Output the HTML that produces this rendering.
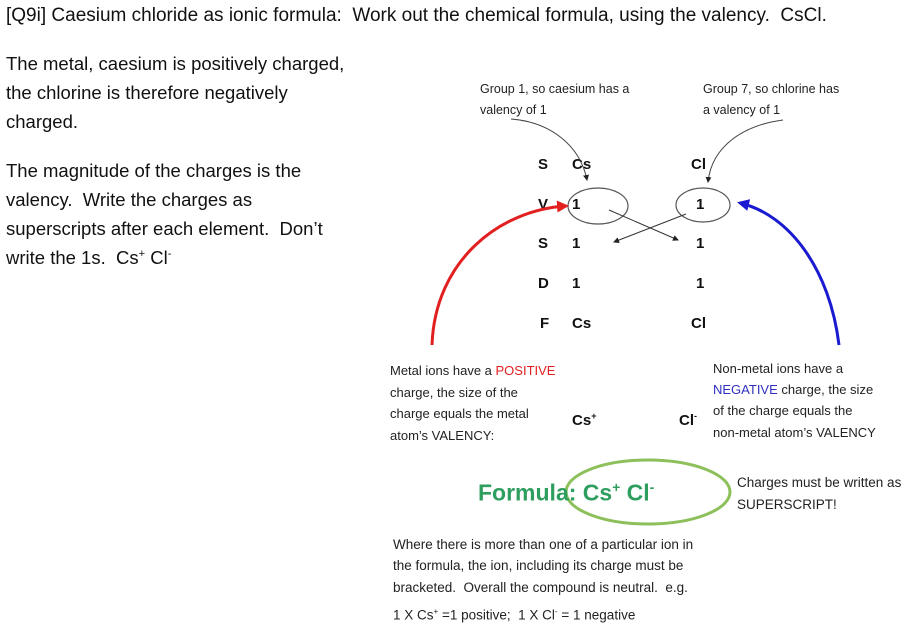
<!DOCTYPE html>
<html><head><meta charset="utf-8"><style>
body{margin:0;width:923px;height:640px;background:#fff;position:relative;overflow:hidden;font-family:"Liberation Sans",sans-serif;color:#111}
.t{position:absolute;white-space:nowrap;line-height:1}
.big{font-size:18.5px}
.sm{font-size:12.5px;color:#222}
.md{font-size:13px;color:#222}
.bt{font-size:13.5px;color:#222}
.b{font-weight:bold;font-size:15px}
sup{font-size:60%}
</style></head><body>
<div class="t big" style="left:6px;top:6px;font-size:19px">[Q9i] Caesium chloride as ionic formula:&nbsp; Work out the chemical formula, using the valency.&nbsp; CsCl.</div>
<div class="t big" style="left:6px;top:55px">The metal, caesium is positively charged,</div>
<div class="t big" style="left:6px;top:84px">the chlorine is therefore negatively</div>
<div class="t big" style="left:6px;top:113px">charged.</div>
<div class="t big" style="left:6px;top:162px">The magnitude of the charges is the</div>
<div class="t big" style="left:6px;top:191px">valency.&nbsp; Write the charges as</div>
<div class="t big" style="left:6px;top:220px">superscripts after each element.&nbsp; Don’t</div>
<div class="t big" style="left:6px;top:249px">write the 1s.&nbsp; Cs<sup>+</sup> Cl<sup>-</sup></div>

<div class="t sm" style="left:480px;top:83px">Group 1, so caesium has a</div>
<div class="t sm" style="left:480px;top:104px">valency of 1</div>
<div class="t sm" style="left:703px;top:83px">Group 7, so chlorine has</div>
<div class="t sm" style="left:703px;top:104px">a valency of 1</div>

<div class="t b" style="left:538px;top:157px">S</div><div class="t b" style="left:572px;top:157px">Cs</div><div class="t b" style="left:691px;top:157px">Cl</div>
<div class="t b" style="left:538px;top:197px">V</div><div class="t b" style="left:572px;top:197px">1</div><div class="t b" style="left:696px;top:197px">1</div>
<div class="t b" style="left:538px;top:236px">S</div><div class="t b" style="left:572px;top:236px">1</div><div class="t b" style="left:696px;top:236px">1</div>
<div class="t b" style="left:538px;top:276px">D</div><div class="t b" style="left:572px;top:276px">1</div><div class="t b" style="left:696px;top:276px">1</div>
<div class="t b" style="left:540px;top:316px">F</div><div class="t b" style="left:572px;top:316px">Cs</div><div class="t b" style="left:691px;top:316px">Cl</div>

<svg width="923" height="640" style="position:absolute;left:0;top:0">
<defs>
<marker id="k" markerWidth="6" markerHeight="6" refX="5" refY="3" orient="auto"><path d="M0,0L6,3L0,6z" fill="#222"/></marker>
<marker id="r" markerWidth="4" markerHeight="4" refX="3" refY="2" orient="auto"><path d="M0,0L4,2L0,4z" fill="#e32020"/></marker>
<marker id="bl" markerWidth="4" markerHeight="4" refX="3" refY="2" orient="auto"><path d="M0,0L4,2L0,4z" fill="#1a1ad0"/></marker>
</defs>
<ellipse cx="598" cy="206" rx="30" ry="18" fill="none" stroke="#555" stroke-width="1.2"/>
<ellipse cx="703" cy="205" rx="27" ry="17" fill="none" stroke="#555" stroke-width="1.2"/>
<path d="M511,119 C550,122 580,145 587,180" fill="none" stroke="#444" stroke-width="1" marker-end="url(#k)"/>
<path d="M783,120 C745,125 712,145 708,182" fill="none" stroke="#444" stroke-width="1" marker-end="url(#k)"/>
<line x1="609" y1="210" x2="678" y2="240" stroke="#333" marker-end="url(#k)"/>
<line x1="686" y1="214" x2="614" y2="242" stroke="#333" marker-end="url(#k)"/>
<path d="M432,345 C435,260 500,210 566,206" fill="none" stroke="#e32020" stroke-width="3" marker-end="url(#r)"/>
<path d="M839,345 C830,270 790,215 740,203" fill="none" stroke="#1a1ad0" stroke-width="3" marker-end="url(#bl)"/>
<ellipse cx="648" cy="492" rx="82" ry="32" fill="none" stroke="#8dc05a" stroke-width="3"/>
</svg>

<div class="t md" style="left:390px;top:364px">Metal ions have a <span style="color:#e02020">POSITIVE</span></div>
<div class="t md" style="left:390px;top:386px">charge, the size of the</div>
<div class="t md" style="left:390px;top:407px">charge equals the metal</div>
<div class="t md" style="left:390px;top:429px">atom’s VALENCY:</div>
<div class="t b" style="left:572px;top:412px">Cs<sup>+</sup></div>
<div class="t b" style="left:679px;top:412px">Cl<sup>-</sup></div>
<div class="t md" style="left:713px;top:362px">Non-metal ions have a</div>
<div class="t md" style="left:713px;top:383px"><span style="color:#3030c0">NEGATIVE</span> charge, the size</div>
<div class="t md" style="left:713px;top:404px">of the charge equals the</div>
<div class="t md" style="left:713px;top:426px">non-metal atom’s VALENCY</div>

<div class="t" style="left:478px;top:481px;font-size:23px;font-weight:bold;color:#2e9e5e">Formula: Cs<sup>+</sup> Cl<sup>-</sup></div>
<div class="t bt" style="left:737px;top:476px">Charges must be written as</div>
<div class="t bt" style="left:737px;top:498px">SUPERSCRIPT!</div>

<div class="t bt" style="left:393px;top:538px">Where there is more than one of a particular ion in</div>
<div class="t bt" style="left:393px;top:559px">the formula, the ion, including its charge must be</div>
<div class="t bt" style="left:393px;top:581px">bracketed.&nbsp; Overall the compound is neutral.&nbsp; e.g.</div>
<div class="t bt" style="left:393px;top:608px">1 X Cs<sup>+</sup> =1 positive;&nbsp; 1 X Cl<sup>-</sup> = 1 negative</div>
</body></html>
